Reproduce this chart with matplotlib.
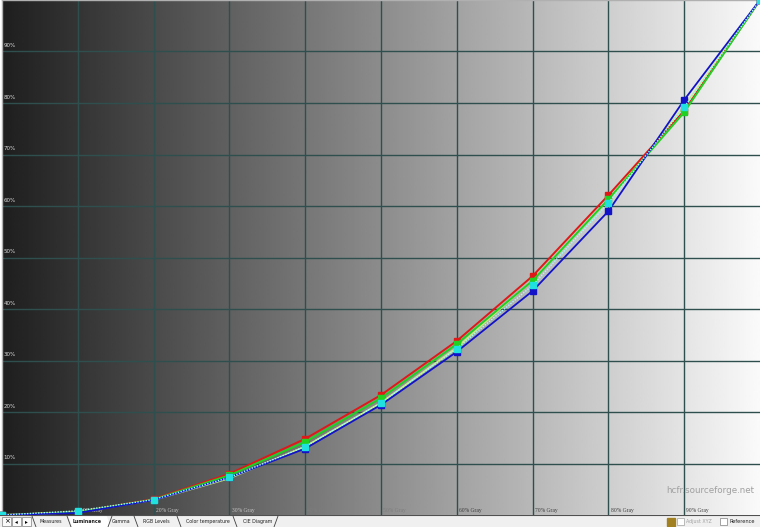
import numpy as np
import matplotlib
matplotlib.use("Agg")
import matplotlib.pyplot as plt

# gray level (%) on x, relative luminance (%) on y
gray = [0, 10, 20, 30, 40, 50, 60, 70, 80, 90, 100]
red = [0, 0.5, 3.1, 8.0, 14.8, 23.3, 33.8, 46.4, 62.1, 78.5, 100]
green = [0, 0.5, 3.0, 7.7, 14.2, 22.7, 33.2, 45.5, 61.3, 78.2, 100]
blue = [0, 0.4, 2.9, 7.3, 12.9, 21.4, 31.7, 43.5, 59.0, 80.6, 100]
lum = [0, 0.8, 3.0, 7.3, 13.3, 21.8, 32.3, 44.6, 60.6, 79.2, 100]
ref = [0, 0.6, 2.9, 7.1, 13.3, 21.8, 32.5, 45.6, 61.2, 79.3, 100]

ytick_labels = ["10%", "20%", "30%", "40%", "50%", "60%", "70%", "80%", "90%"]
xtick_labels = ["10% Gray", "20% Gray", "30% Gray", "40% Gray", "50% Gray",
                "60% Gray", "70% Gray", "80% Gray", "90% Gray"]
tabs = ["Measures", "Luminance", "Gamma", "RGB Levels", "Color temperature", "CIE Diagram"]

W, H = 760, 527
fig = plt.figure(figsize=(W/100, H/100), dpi=100)

ax = fig.add_axes([2/W, 12/H, 758/W, 515/H])
grad = np.linspace(0.12, 0.98, 400).reshape(1, -1)
ax.imshow(grad, cmap="gray", vmin=0, vmax=1, extent=[0, 100, 0, 100],
          aspect="auto", zorder=0, interpolation="bilinear")
ax.set_xlim(0, 100)
ax.set_ylim(0, 100)
ax.set_xticks([])
ax.set_yticks([])
for v in range(10, 100, 10):
    ax.axvline(v, color="#2f4f4f", lw=1, zorder=1)
    ax.axhline(v, color="#2f4f4f", lw=1, zorder=1)
for s in ["bottom", "right"]:
    ax.spines[s].set_visible(False)
for s in ["top", "left"]:
    ax.spines[s].set_color("#b0b0b0")
    ax.spines[s].set_linewidth(1)

for i, t in enumerate(ytick_labels):
    ax.text(0.2, (i + 1) * 10 + 0.6, t, fontsize=4, color="#d8d8d8",
            va="bottom", ha="left", zorder=2)
for i, t in enumerate(xtick_labels):
    c = "#c8c8c8" if i < 3 else ("#7e7e7e" if i < 5 else "#3c3c3c")
    ax.text((i + 1) * 10 + 0.3, 0.3, t, fontsize=4.0, color=c,
            family="Liberation Serif", va="bottom", ha="left", zorder=2)

ax.plot(gray, ref, color="#c8ec78", lw=1.2, zorder=3, clip_on=False)
ax.plot(gray, red, color="#e01818", lw=1.4, marker="s", ms=3.8, zorder=4, clip_on=False)
ax.plot(gray, green, color="#22d022", lw=1.4, marker="s", ms=3.8, zorder=4, clip_on=False)
ax.plot(gray, blue, color="#1212c8", lw=1.3, marker="s", ms=3.8, zorder=5, clip_on=False)
ax.plot(gray, lum, color="#a0ffff", lw=1, ls=(0, (1, 1)), marker="s", ms=3.8,
        mfc="#20e0e0", mec="#20e0e0", zorder=6, clip_on=False)

ax.text(99.3, 3.8, "hcfr.sourceforge.net", fontsize=6.3, color="#a0a0a0",
        ha="right", va="bottom", zorder=2)

# tab bar at the bottom
tb = fig.add_axes([0, 0, 1, 12/H])
tb.set_xlim(0, W)
tb.set_ylim(12, 0)
tb.axis("off")
tb.add_patch(plt.Rectangle((0, 0), W, 12, color="#f0f0f0"))
tb.plot([0, W], [0.4, 0.4], color="#505050", lw=0.8)
for x0 in [2, 12, 22]:
    tb.add_patch(plt.Rectangle((x0, 2), 9, 9, fc="#fafafa", ec="#808080", lw=0.5))
tb.text(6.5, 6.5, "×", fontsize=5, ha="center", va="center")
tb.text(16.5, 6.5, "◂", fontsize=4, ha="center", va="center")
tb.text(26.5, 6.5, "▸", fontsize=4, ha="center", va="center")

tab_x = [40, 73, 112, 143, 186, 243]
seps = [(32, "\\"), (67, "\\"), (108, "/"), (134, "\\"), (177, "\\"), (233, "\\"), (274, "/")]
tb.add_patch(plt.Polygon([[69, 1], [106, 1], [110, 12], [73, 12]], color="white"))
for x, d in seps:
    if d == "\\":
        tb.plot([x, x + 4], [1, 12], color="#404040", lw=0.6)
    else:
        tb.plot([x + 4, x], [1, 12], color="#404040", lw=0.6)
for t, x in zip(tabs, tab_x):
    tb.text(x, 6.8, t, fontsize=3.4, ha="left", va="center",
            weight="bold" if t == "Luminance" else "normal", color="#202020")

tb.add_patch(plt.Rectangle((667, 2.5), 8, 8, color="#a08020"))
tb.add_patch(plt.Rectangle((677, 3), 7, 7, fc="white", ec="#a0a0a0", lw=0.5))
tb.text(686, 6.8, "Adjust XYZ", fontsize=3.4, color="#a0a0a0", ha="left", va="center")
tb.add_patch(plt.Rectangle((720, 3), 7, 7, fc="white", ec="#808080", lw=0.5))
tb.text(729, 6.8, "Reference", fontsize=3.6, color="#202020", ha="left", va="center")

plt.savefig("out.png", dpi=100)
